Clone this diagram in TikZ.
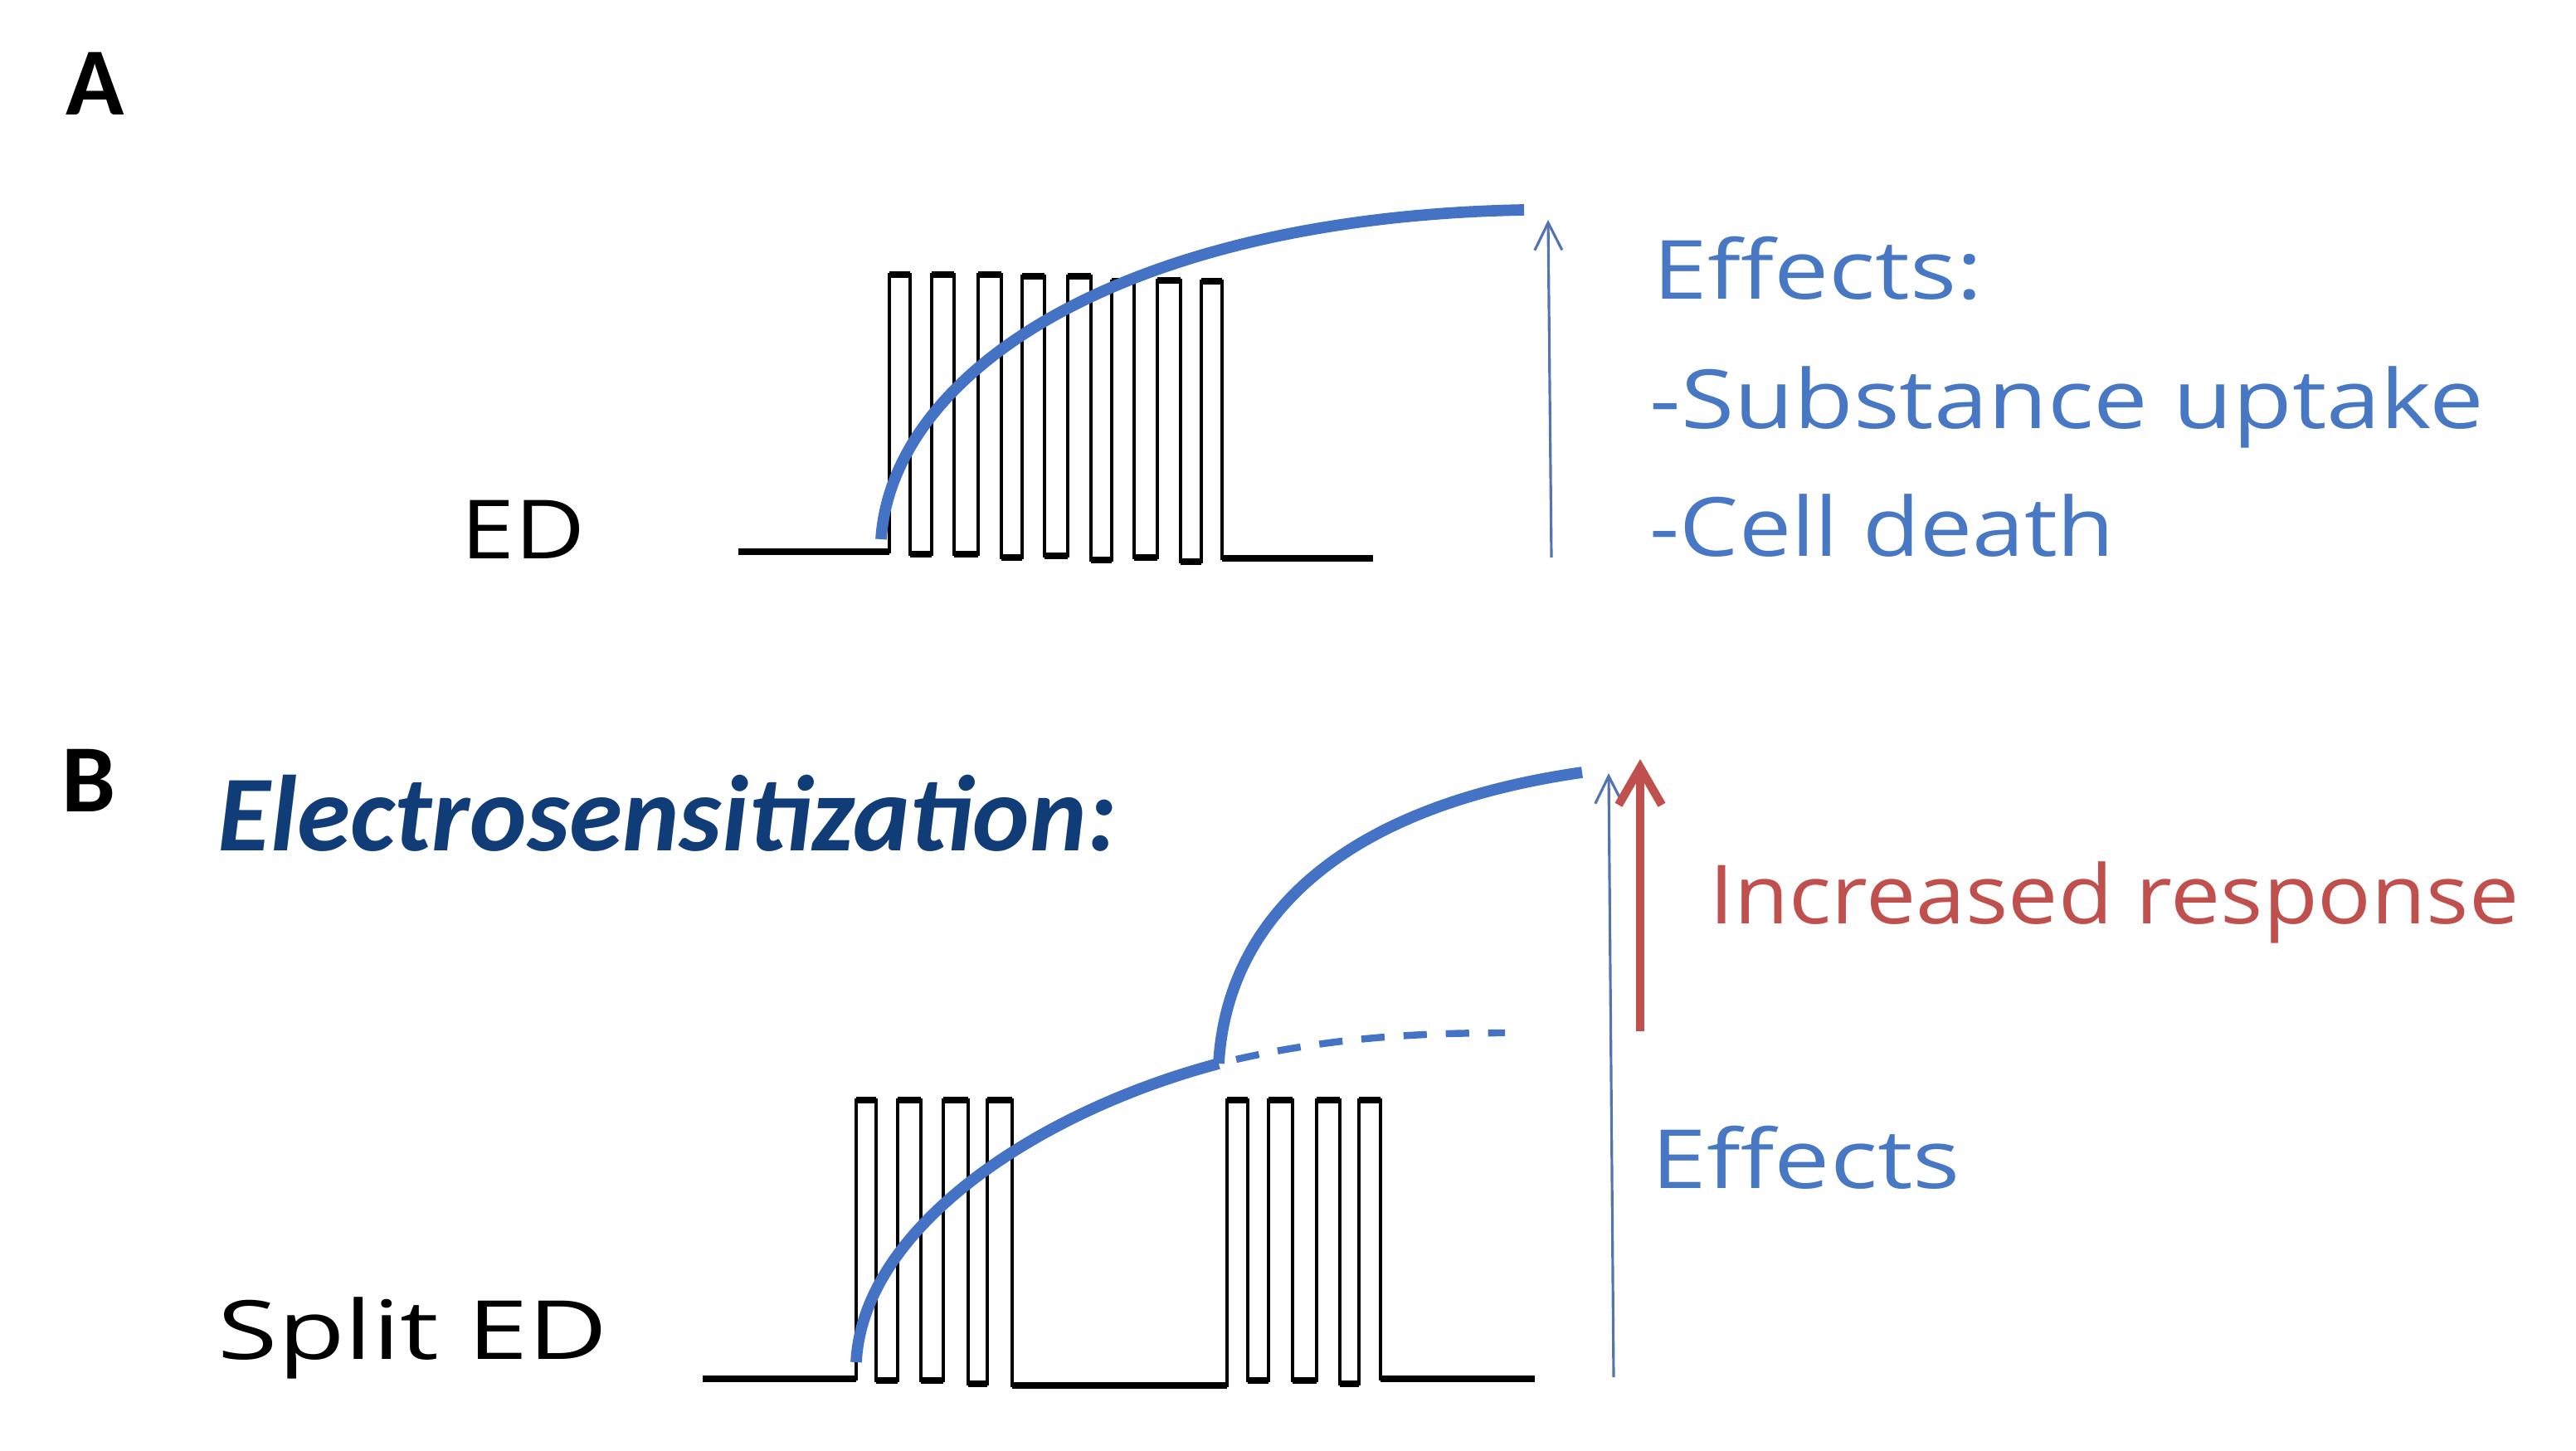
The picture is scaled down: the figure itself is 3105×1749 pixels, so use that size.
\documentclass[tikz,border=0pt]{standalone}
\usepackage{fontspec}
\usepackage{graphicx}
\setmainfont{Open Sans}
\newfontfamily\handfont{Open Sans}
\newfontfamily\calfont{Carlito}
\usetikzlibrary{arrows.meta}
\definecolor{curveblue}{RGB}{68,114,196}
\definecolor{arrowblue}{RGB}{84,116,176}
\definecolor{textblue}{RGB}{72,120,196}
\definecolor{respred}{RGB}{192,80,77}
\definecolor{navy}{RGB}{16,60,120}
\newcommand\fitw[2]{\resizebox{#1}{\height}{#2}}
\begin{document}
\begin{tikzpicture}[x=0.01cm,y=-0.01cm,
  pulse/.style={black, line width=1.2pt, line join=miter},
  bar/.style={black, line width=2.4pt, line cap=butt},
  resp/.style={curveblue, line width=3.9pt, line cap=butt},
  respdash/.style={curveblue, line width=2.4pt, dash pattern=on 8pt off 6.5pt},
  thinarrow/.style={arrowblue, line width=0.9pt, -{Straight Barb[length=0.33cm,width=0.33cm]}},
  redarrow/.style={respred, line width=2.9pt, -{Straight Barb[length=0.45cm,width=0.52cm]}},
  hand/.style={anchor=base west, inner sep=0pt, font=\handfont\fontsize{28}{30}\selectfont},
  panel/.style={anchor=base west, inner sep=0pt, font=\calfont\bfseries\fontsize{33}{36}\selectfont},
]
\useasboundingbox (0,0) rectangle (3105,1749);

% ---------------- Panel A ----------------
\node[panel] (labA) at (79,139) {A};

\draw[pulse] (890,665) -- (1072,665) -- (1072,331) -- (1097,331) -- (1097,668) -- (1123,668)
  -- (1123,331) -- (1150,331) -- (1150,668) -- (1179,668) -- (1179,331) -- (1207,331)
  -- (1207,672) -- (1232,672) -- (1232,333) -- (1259,333) -- (1259,670) -- (1287,670)
  -- (1287,333) -- (1315,333) -- (1315,675) -- (1340,675) -- (1340,339) -- (1367,339)
  -- (1367,672) -- (1395,672) -- (1395,338) -- (1423,338) -- (1423,677) -- (1448,677)
  -- (1448,339) -- (1473,339) -- (1473,673) -- (1655,673);
\foreach \a/\b/\y in {890/1072/665, 1072/1097/331, 1097/1123/668, 1123/1150/331, 1150/1179/668,
  1179/1207/331, 1207/1232/672, 1232/1259/333, 1259/1287/670, 1287/1315/333, 1315/1340/675,
  1340/1367/339, 1367/1395/672, 1395/1423/338, 1423/1448/677, 1448/1473/339, 1473/1655/673}
  \draw[bar] (\a,\y) -- (\b,\y);

\coordinate (cAstart) at (1062,650);
\coordinate (cAend) at (1837,253);
\draw[resp] (cAstart) .. controls (1075,450) and (1350,262) .. (cAend);

\coordinate (aAbot) at (1870,672);
\coordinate (aAtop) at (1866,265);
\draw[thinarrow] (aAbot) -- (aAtop);

\node[hand] (ed) at (555,673) {\fitw{1.5cm}{ED}};
\node[hand, text=textblue] (effA) at (1992,361) {\fitw{3.97cm}{Effects:}};
\node[hand, text=textblue] (sub) at (1988,517) {\fitw{10.05cm}{-Substance uptake}};
\node[hand, text=textblue] (cell) at (1988,670) {\fitw{5.6cm}{-Cell death}};

% ---------------- Panel B ----------------
\node[panel] (labB) at (74,978) {B};
\node[anchor=base west, inner sep=0pt, text=navy,
  font=\calfont\bfseries\itshape\fontsize{37}{40}\selectfont] (title) at (262,1025) {Electrosensitization:};

\draw[pulse] (847,1662) -- (1032,1662) -- (1032,1326) -- (1056,1326) -- (1056,1664) -- (1082,1664)
  -- (1082,1326) -- (1110,1326) -- (1110,1664) -- (1137,1664) -- (1137,1326) -- (1167,1326)
  -- (1167,1668) -- (1190,1668) -- (1190,1326) -- (1220,1326) -- (1220,1670) -- (1479,1670)
  -- (1479,1326) -- (1504,1326) -- (1504,1664) -- (1529,1664) -- (1529,1326) -- (1558,1326)
  -- (1558,1664) -- (1587,1664) -- (1587,1326) -- (1615,1326) -- (1615,1668) -- (1638,1668)
  -- (1638,1326) -- (1664,1326) -- (1664,1662) -- (1850,1662);
\foreach \a/\b/\y in {847/1032/1662, 1032/1056/1326, 1056/1082/1664, 1082/1110/1326, 1110/1137/1664,
  1137/1167/1326, 1167/1190/1668, 1190/1220/1326, 1220/1479/1670, 1479/1504/1326, 1504/1529/1664,
  1529/1558/1326, 1558/1587/1664, 1587/1615/1326, 1615/1638/1668, 1638/1664/1326, 1664/1850/1662}
  \draw[bar] (\a,\y) -- (\b,\y);

\coordinate (cBstart) at (1032,1642);
\coordinate (kink) at (1469,1282);
\coordinate (upend) at (1907,931);
\draw[resp] (cBstart) .. controls (1040,1480) and (1250,1340) .. (kink);
\draw[resp] (kink) .. controls (1478,1120) and (1600,975) .. (upend);
\coordinate (dstart) at (1490,1277);
\coordinate (dend) at (1814,1245);
\draw[respdash] (dstart) .. controls (1600,1252) and (1700,1245) .. (dend);

\coordinate (aBbot) at (1945,1660);
\coordinate (aBtop) at (1939,932);
\draw[thinarrow] (aBbot) -- (aBtop);
\coordinate (rBbot) at (1977,1243);
\coordinate (rBtop) at (1977,915);
\draw[redarrow] (rBbot) -- (rBtop);

\node[hand] (sed) at (262,1638) {\fitw{4.7cm}{Split ED}};
\node[hand, text=respred] (inc) at (2060,1113) {\fitw{9.75cm}{Increased response}};
\node[hand, text=textblue] (effB) at (1990,1432) {\fitw{3.72cm}{Effects}};
\end{tikzpicture}
\end{document}
